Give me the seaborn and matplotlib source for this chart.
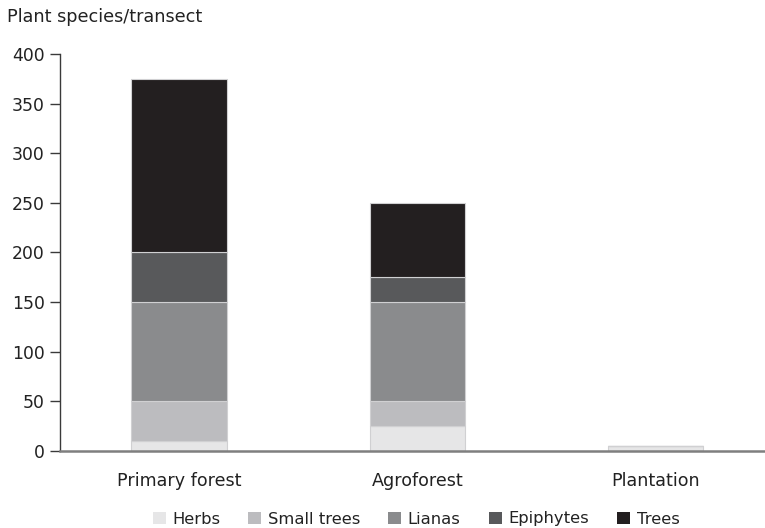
import matplotlib
matplotlib.use("Agg")
import matplotlib.pyplot as plt
import seaborn as sns
import numpy as np
import pandas as pd
from matplotlib.patches import Patch

sites = ["Primary forest", "Agroforest", "Plantation"]
layers = ["Herbs", "Small trees", "Lianas", "Epiphytes", "Trees"]
herbs = [10, 25, 5]
small_trees = [40, 25, 0]
lianas = [100, 100, 0]
epiphytes = [50, 25, 0]
trees = [175, 75, 0]
colors = ["#e6e6e7", "#bcbcbf", "#8a8b8d", "#58595b", "#231f20"]

values = [herbs, small_trees, lianas, epiphytes, trees]

sns.set_theme(style="white")
plt.rcParams["font.family"] = ["DejaVu Sans"]

fig = plt.figure(figsize=(7.65, 5.28), dpi=100)
ax = fig.add_axes([60/765, 1-451/528, 1-60/765, (451-54)/528])

bottom = np.zeros(len(sites))
for name, vals, col in zip(layers, values, colors):
    vals = np.array(vals, dtype=float)
    df = pd.DataFrame({"site": sites, "value": vals})
    sns.barplot(data=df, x="site", y="value", order=sites, color=col,
                width=0.4, bottom=bottom, edgecolor="#d0d0d2", linewidth=0.8,
                saturation=1, ax=ax, errorbar=None)
    bottom = bottom + vals

ax.set_xlim(-0.5, 2.46)
ax.set_ylim(0, 400)
ax.set_yticks(range(0, 401, 50))
ax.set_xlabel("")
ax.set_ylabel("")
for s in ["top", "right"]:
    ax.spines[s].set_visible(False)
ax.spines["left"].set_color("#3a3a3a")
ax.spines["left"].set_linewidth(1.0)
ax.spines["bottom"].set_color("#7f7f7f")
ax.spines["bottom"].set_linewidth(1.8)
ax.tick_params(axis="y", which="both", left=True, length=7, width=1.0,
               color="#3a3a3a", labelsize=12.4, labelcolor="#222222", pad=4)
ax.tick_params(axis="x", bottom=False, labelsize=12.6, labelcolor="#222222", pad=9)

fig.text(7/765, 1-17.5/528, "Plant species/transect", fontsize=12.7,
         color="#222222", ha="left", va="center")

handles = [Patch(facecolor=c, edgecolor="none", label=l) for c, l in zip(colors, layers)]
fig.legend(handles=handles, loc="center", bbox_to_anchor=(416/765, 1-519/528),
           ncol=5, frameon=False, fontsize=11.8, handlelength=0.8, handleheight=0.8,
           handletextpad=0.4, columnspacing=1.7, labelcolor="#222222")

fig.savefig("out.png", dpi=100)
